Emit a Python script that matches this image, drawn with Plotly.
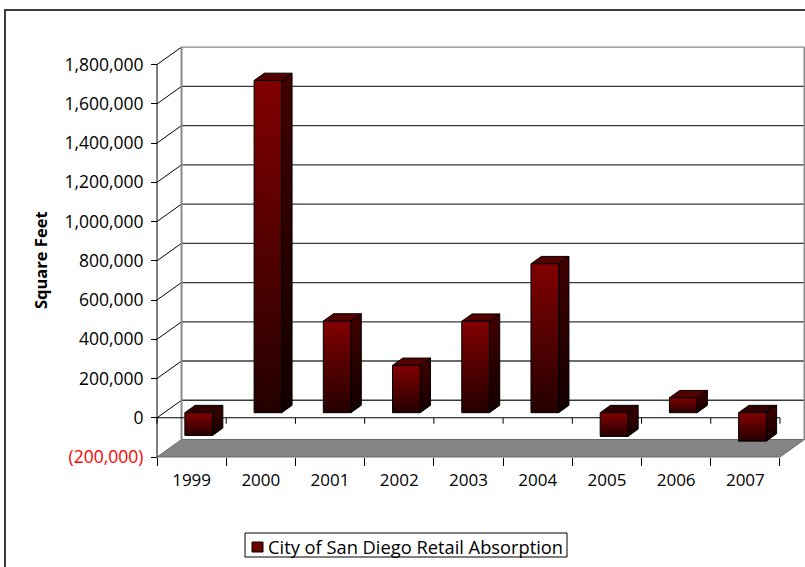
import plotly.graph_objects as go

# ---- data -------------------------------------------------------------
years = ["1999", "2000", "2001", "2002", "2003", "2004", "2005", "2006", "2007"]
absorption = [-116000, 1693000, 467000, 241000, 466000, 759000, -121000, 76000, -145000]
series_name = "City of San Diego Retail Absorption"

value_ticks = [-200000, 0, 200000, 400000, 600000, 800000, 1000000,
               1200000, 1400000, 1600000, 1800000]
value_tick_labels = ['<span style="color:#ff0000">(200,000)</span>', "0", "200,000",
                     "400,000", "600,000", "800,000", "1,000,000", "1,200,000",
                     "1,400,000", "1,600,000", "1,800,000"]

# ---- page geometry (pixels) ---------------------------------------------
FIG_W, FIG_H = 805, 567
M_L, M_R, M_T, M_B = 150, 0, 20, 100
PLOT_W = FIG_W - M_L - M_R
PLOT_H = FIG_H - M_T - M_B
PX_PER_CAT = 69.22          # width of one category on the front plane
PX_PER_VAL = 196.2e-6       # pixels per square foot
AXIS_INSET_X = 7            # value axis sits this far right of the plot edge
AXIS_INSET_Y = 10           # category axis sits this far above the plot bottom


def px_x(px):
    """Horizontal page pixel -> paper fraction."""
    return (px - M_L) / PLOT_W


def px_y(py):
    """Vertical page pixel (from top) -> paper fraction."""
    return (FIG_H - M_B - py) / PLOT_H


y_min, y_top = value_ticks[0], value_ticks[-1]
n = len(years)
x_lo, x_hi = -0.5, n - 0.5

x_range0 = x_lo - AXIS_INSET_X / PX_PER_CAT
x_range = [x_range0, x_range0 + PLOT_W / PX_PER_CAT]
y_range0 = y_min - AXIS_INSET_Y / PX_PER_VAL
y_range = [y_range0, y_range0 + PLOT_H / PX_PER_VAL]

# 3-D depth of the walls, expressed in axis units
DX = 24.5 / PX_PER_CAT
DY = 17.5 / PX_PER_VAL
# bar footprint
HALF_W = 0.2
F0, F1 = 0.29, 0.71         # front / back depth fractions of each bar

shapes = []


def seg(x0, y0, x1, y1, color="black", width=1):
    shapes.append(dict(type="line", xref="x", yref="y", x0=x0, y0=y0, x1=x1, y1=y1,
                       line=dict(color=color, width=width), layer="below"))


def poly(pts, fill, line_color, width=1):
    path = "M " + " L ".join(f"{px},{py}" for px, py in pts) + " Z"
    shapes.append(dict(type="path", xref="x", yref="y", path=path, fillcolor=fill,
                       line=dict(color=line_color, width=width), layer="below"))


# floor
poly([(x_lo, y_min), (x_hi, y_min), (x_hi + DX, y_min + DY), (x_lo + DX, y_min + DY)],
     "#858585", "#6a6a6a")

# back-wall gridlines and side-wall diagonals
for v in value_ticks[1:]:
    col = "#8a8a8a" if v == y_top else "#3a3a3a"
    seg(x_lo + DX, v + DY, x_hi + DX, v + DY, col, 1.3)
    seg(x_lo, v, x_lo + DX, v + DY, "black", 1)

# back-wall edges
seg(x_lo + DX, y_min + DY, x_lo + DX, y_top + DY, "#8a8a8a", 2)
seg(x_hi + DX, y_min + DY, x_hi + DX, y_top + DY, "#8a8a8a", 2)

# value axis line on the front plane
seg(x_lo, y_min, x_lo, y_top, "black", 1)

# zero line on the front plane with category ticks
seg(x_lo, 0, x_hi, 0, "black", 1)
tick_drop = 6 / PX_PER_VAL
for k in range(n + 1):
    seg(x_lo + k, 0, x_lo + k, -tick_drop, "black", 1)

# frame around the chart area
shapes.append(dict(type="rect", xref="paper", yref="paper",
                   x0=px_x(5), x1=px_x(FIG_W + 40), y0=px_y(FIG_H + 40), y1=px_y(10),
                   line=dict(color="#3c3c3c", width=2), fillcolor="rgba(0,0,0,0)",
                   layer="below"))

# legend box and key
shapes.append(dict(type="rect", xref="paper", yref="paper",
                   x0=px_x(245), x1=px_x(567), y0=px_y(557), y1=px_y(533),
                   line=dict(color="black", width=1), fillcolor="white", layer="above"))
shapes.append(dict(type="rect", xref="paper", yref="paper",
                   x0=px_x(252), x1=px_x(263), y0=px_y(552), y1=px_y(542),
                   line=dict(color="black", width=1), fillcolor="#6a0000", layer="above"))

fig = go.Figure()

front_scale = [[0, "#240000"], [1, "#820000"]]
side_scale = [[0, "#120000"], [1, "#420000"]]


def face(xs, ys, fill=None, scale=None):
    kw = dict(x=xs + [xs[0]], y=ys + [ys[0]], mode="lines", fill="toself",
              line=dict(color="black", width=1), hoverinfo="skip", showlegend=False)
    if scale is not None:
        kw["fillgradient"] = dict(type="vertical", colorscale=scale)
    else:
        kw["fillcolor"] = fill
    fig.add_trace(go.Scatter(**kw))


for i, v in enumerate(absorption):
    lo, hi = min(0, v), max(0, v)
    xl0, xr0 = i - HALF_W + F0 * DX, i + HALF_W + F0 * DX
    xl1, xr1 = i - HALF_W + F1 * DX, i + HALF_W + F1 * DX
    y0f, y1f = F0 * DY, F1 * DY
    # side face
    face([xr0, xr1, xr1, xr0], [lo + y0f, lo + y1f, hi + y1f, hi + y0f], scale=side_scale)
    # top face
    face([xl0, xr0, xr1, xl1], [hi + y0f, hi + y0f, hi + y1f, hi + y1f],
         fill="#520000" if v > 0 else "#2e0000")
    # front face
    face([xl0, xr0, xr0, xl0], [lo + y0f, lo + y0f, hi + y0f, hi + y0f], scale=front_scale)

FONT = "Open Sans, Noto Sans, sans-serif"

fig.update_layout(
    width=FIG_W, height=FIG_H,
    margin=dict(l=M_L, r=M_R, t=M_T, b=M_B, pad=0),
    paper_bgcolor="white", plot_bgcolor="white",
    font=dict(family=FONT, size=17, color="black"),
    shapes=shapes,
    showlegend=False,
    xaxis=dict(range=x_range, anchor="free", position=AXIS_INSET_Y / PLOT_H,
               tickmode="array", tickvals=list(range(n)), ticktext=years,
               ticks="outside", ticklen=8, tickcolor="rgba(0,0,0,0)",
               minor=dict(tickmode="array", tickvals=[x_lo + k for k in range(n + 1)],
                          ticks="outside", ticklen=8, tickcolor="black", showgrid=False),
               showgrid=False, zeroline=False, showline=False, fixedrange=True,
               tickfont=dict(size=17)),
    yaxis=dict(range=y_range, anchor="free", position=AXIS_INSET_X / PLOT_W,
               tickmode="array", tickvals=value_ticks, ticktext=value_tick_labels,
               ticks="outside", ticklen=6, tickcolor="black", ticklabelstandoff=4,
               showgrid=False, zeroline=False, showline=False, fixedrange=True,
               tickfont=dict(size=17.5)),
    annotations=[
        dict(text="<b>Square Feet</b>", textangle=-90, showarrow=False,
             xref="paper", yref="paper", x=px_x(40), y=px_y(260),
             xanchor="center", yanchor="middle", font=dict(family=FONT, size=16.5)),
        dict(text=series_name, showarrow=False, xref="paper", yref="paper",
             x=px_x(266), y=px_y(546), xanchor="left", yanchor="middle",
             font=dict(family=FONT, size=18.3)),
    ],
)

fig.write_html("out.html")
